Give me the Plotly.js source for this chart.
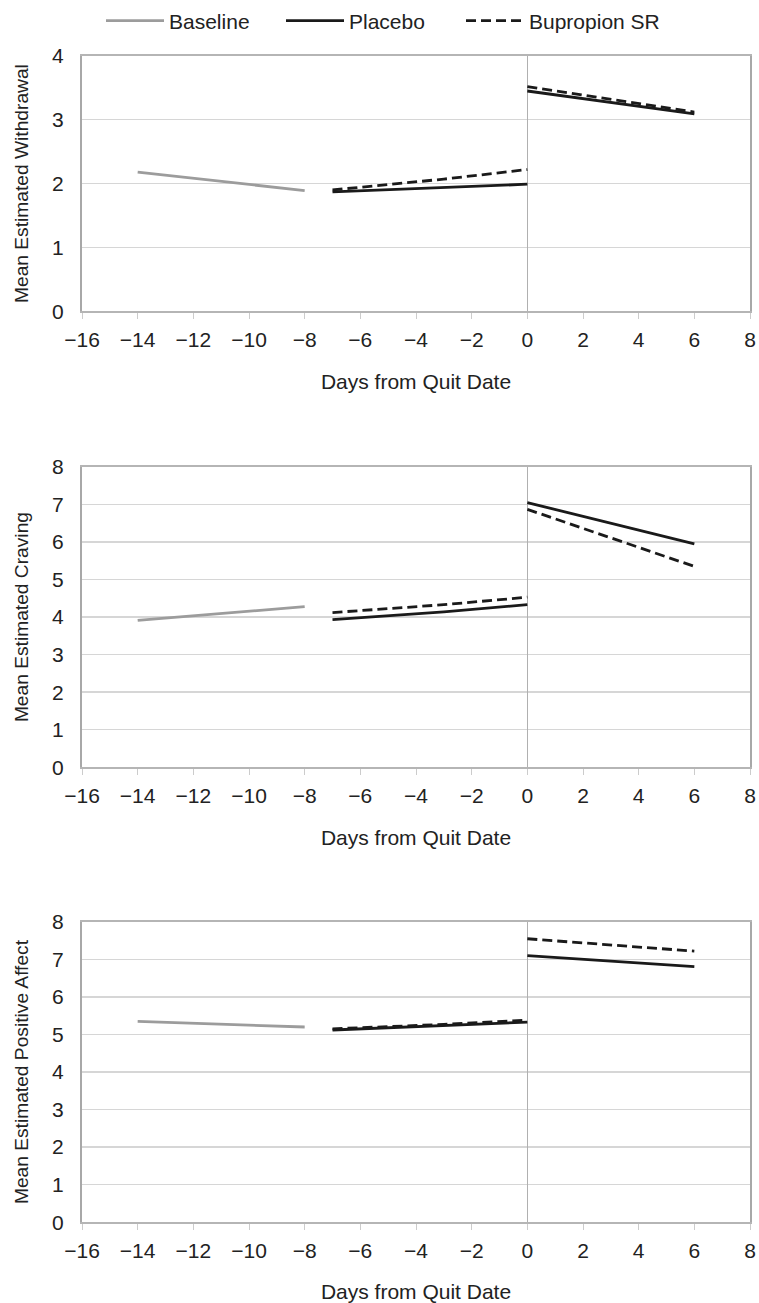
<!DOCTYPE html>
<html>
<head>
<meta charset="utf-8">
<script src="https://cdn.plot.ly/plotly-3.0.1.min.js"></script>
<style>html,body{margin:0;padding:0;background:#fff;}#chart{width:759px;height:1303px;}</style>
</head>
<body>
<div id="chart"></div>
<script>
// x positions (days from quit date)
const baselineDays = [-14, -12, -10, -8];
const preDays = [-7, -3, 0];
const postDays = [0, 6];

// Panel 1: Withdrawal
const wdBaseline = [2.18, 2.08, 1.99, 1.89];
const wdPlaceboPre = [1.87, 1.94, 1.99];
const wdBupPre = [1.90, 2.07, 2.22];
const wdPlaceboPost = [3.45, 3.09];
const wdBupPost = [3.52, 3.12];

// Panel 2: Craving
const crBaseline = [3.91, 4.03, 4.15, 4.28];
const crPlaceboPre = [3.93, 4.14, 4.33];
const crBupPre = [4.12, 4.33, 4.53];
const crPlaceboPost = [7.05, 5.95];
const crBupPost = [6.87, 5.35];

// Panel 3: Positive Affect
const paBaseline = [5.35, 5.30, 5.25, 5.20];
const paPlaceboPre = [5.12, 5.23, 5.33];
const paBupPre = [5.15, 5.27, 5.38];
const paPlaceboPost = [7.10, 6.81];
const paBupPost = [7.55, 7.22];

const seriesNames = ['Baseline', 'Placebo', 'Bupropion SR'];
const yTitles = ['Mean Estimated Withdrawal', 'Mean Estimated Craving', 'Mean Estimated Positive Affect'];
const xTitle = 'Days from Quit Date';

const panels = [
  {b: wdBaseline, pp: wdPlaceboPre, bp: wdBupPre, ppo: wdPlaceboPost, bpo: wdBupPost, ymax: 4},
  {b: crBaseline, pp: crPlaceboPre, bp: crBupPre, ppo: crPlaceboPost, bpo: crBupPost, ymax: 8},
  {b: paBaseline, pp: paPlaceboPre, bp: paBupPre, ppo: paPlaceboPost, bpo: paBupPost, ymax: 8}
];

const grayLine = {color: '#9c9c9c', width: 2.8};
const blackLine = {color: '#1a1a1a', width: 2.8};
const dashLine = {color: '#1a1a1a', width: 2.8, dash: '10px,5px'};

const traces = [];
panels.forEach((p, i) => {
  const xa = i === 0 ? 'x' : 'x' + (i + 1);
  const ya = i === 0 ? 'y' : 'y' + (i + 1);
  const first = i === 0;
  traces.push({x: baselineDays, y: p.b, xaxis: xa, yaxis: ya, mode: 'lines', line: grayLine, name: seriesNames[0], legend: 'legend', legendgroup: 'b', showlegend: first});
  traces.push({x: preDays, y: p.pp, xaxis: xa, yaxis: ya, mode: 'lines', line: blackLine, name: seriesNames[1], legend: 'legend2', legendgroup: 'p', showlegend: first});
  traces.push({x: preDays, y: p.bp, xaxis: xa, yaxis: ya, mode: 'lines', line: dashLine, name: seriesNames[2], legend: 'legend3', legendgroup: 's', showlegend: first});
  traces.push({x: postDays, y: p.ppo, xaxis: xa, yaxis: ya, mode: 'lines', line: blackLine, name: seriesNames[1], legend: 'legend2', legendgroup: 'p', showlegend: false});
  traces.push({x: postDays, y: p.bpo, xaxis: xa, yaxis: ya, mode: 'lines', line: dashLine, name: seriesNames[2], legend: 'legend3', legendgroup: 's', showlegend: false});
});

const W = 759, H = 1303;
const xDom = [82 / W, 750 / W];
const yDoms = [[1 - 309 / H, 1 - 53 / H], [1 - 766 / H, 1 - 465 / H], [1 - 1222 / H, 1 - 921 / H]];
const fam = 'Liberation Sans, Arial, sans-serif';
const tickFont = {family: fam, size: 21, color: '#222'};
const xTitleFont = {family: fam, size: 21, color: '#222'};
const yTitleFont = {family: fam, size: 19.2, color: '#222'};
const legFont = {family: fam, size: 21, color: '#222'};

function leg(xpx) {
  return {orientation: 'h', x: xpx / W, y: 1 - 18 / H, xanchor: 'left', yanchor: 'middle',
    font: legFont, itemwidth: 58, bgcolor: 'rgba(0,0,0,0)', borderwidth: 0};
}

const layout = {
  width: W, height: H,
  margin: {l: 0, r: 0, t: 0, b: 0},
  paper_bgcolor: '#fff', plot_bgcolor: '#fff',
  font: tickFont,
  showlegend: true,
  legend: leg(101), legend2: leg(281), legend3: leg(461),
  hovermode: false
};

panels.forEach((p, i) => {
  const s = i === 0 ? '' : String(i + 1);
  layout['xaxis' + s] = {
    domain: xDom, anchor: 'y' + s, range: [-16, 8], dtick: 2, tick0: -16,
    showgrid: false, zeroline: true, zerolinecolor: '#b0b0b0', zerolinewidth: 1.5,
    showline: true, linecolor: '#b5b5b5', linewidth: 1.5, mirror: true,
    ticks: 'outside', ticklen: 6, tickcolor: '#cccccc', tickwidth: 1,
    ticklabelstandoff: 3,
    tickfont: tickFont, fixedrange: true,
    title: {text: xTitle, font: xTitleFont, standoff: 24}
  };
  layout['yaxis' + s] = {
    domain: yDoms[i], anchor: 'x' + s, range: [0, p.ymax], dtick: 1,
    showgrid: true, gridcolor: '#d6d6d6', gridwidth: 1.5, zeroline: false,
    showline: true, linecolor: '#a8a8a8', linewidth: 2, mirror: true,
    ticks: '', ticklabelstandoff: 12, tickfont: tickFont, fixedrange: true,
    title: {text: yTitles[i], font: yTitleFont, standoff: 18}
  };
});

Plotly.newPlot('chart', traces, layout, {displayModeBar: false, staticPlot: true});
</script>
</body>
</html>
